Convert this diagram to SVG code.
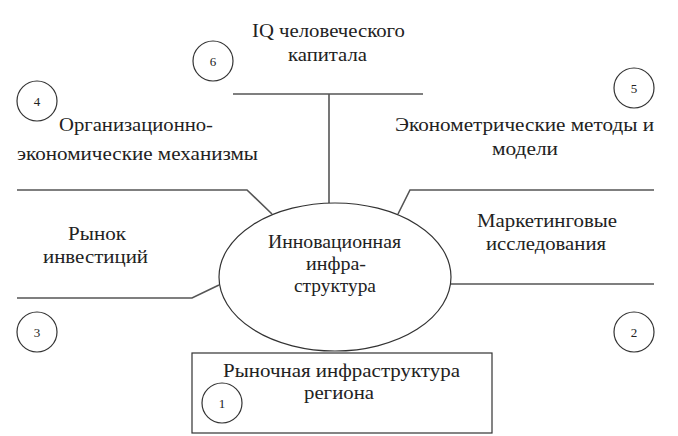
<svg xmlns="http://www.w3.org/2000/svg" width="678" height="436" viewBox="0 0 678 436">
<style>
.ln{fill:none;stroke:#555;stroke-width:1.6}
.sh{fill:#fff;stroke:#333;stroke-width:1.2}
.t{font-family:"Liberation Serif","Times New Roman",serif;font-size:19px;fill:#222;text-anchor:middle}
.n{font-family:"Liberation Serif","Times New Roman",serif;font-size:13px;fill:#222;text-anchor:middle}
</style>
<rect width="678" height="436" fill="#fff"/>
<g id="connectors">
<path class="ln" d="M233 94H423M329 94V203"/>
<path class="ln" d="M17 190H247L272 214"/>
<path class="ln" d="M398 214L410 190H654"/>
<path class="ln" d="M17 298H192L219 285"/>
<path class="ln" d="M451 284H654"/>
</g>
<g id="center">
<ellipse class="sh" cx="335" cy="277" rx="116" ry="74"/>
<text class="t" x="334.5" y="248" textLength="133" lengthAdjust="spacingAndGlyphs">Инновационная</text>
<text class="t" x="336" y="270" textLength="60" lengthAdjust="spacingAndGlyphs">инфра-</text>
<text class="t" x="335" y="292" textLength="82" lengthAdjust="spacingAndGlyphs">структура</text>
</g>
<g id="node1">
<rect class="sh" x="192" y="353" width="300" height="80"/>
<text class="t" x="341.5" y="377" textLength="237" lengthAdjust="spacingAndGlyphs">Рыночная инфраструктура</text>
<text class="t" x="339" y="399" textLength="70" lengthAdjust="spacingAndGlyphs">региона</text>
<circle class="sh" cx="222" cy="403" r="20"/>
<text class="n" x="222" y="408">1</text>
</g>
<g id="node2">
<text class="t" x="547" y="227" textLength="140" lengthAdjust="spacingAndGlyphs">Маркетинговые</text>
<text class="t" x="546" y="250" textLength="120" lengthAdjust="spacingAndGlyphs">исследования</text>
<circle class="sh" cx="634" cy="332" r="20"/>
<text class="n" x="634" y="337">2</text>
</g>
<g id="node3">
<text class="t" x="97" y="240" textLength="58" lengthAdjust="spacingAndGlyphs">Рынок</text>
<text class="t" x="95.5" y="263" textLength="105" lengthAdjust="spacingAndGlyphs">инвестиций</text>
<circle class="sh" cx="37" cy="332" r="20"/>
<text class="n" x="37" y="337">3</text>
</g>
<g id="node4">
<text class="t" x="136" y="131" textLength="154" lengthAdjust="spacingAndGlyphs">Организационно-</text>
<text class="t" x="137.5" y="160" textLength="241" lengthAdjust="spacingAndGlyphs">экономические механизмы</text>
<circle class="sh" cx="37" cy="101" r="20"/>
<text class="n" x="37" y="106">4</text>
</g>
<g id="node5">
<text class="t" x="524.5" y="131" textLength="259" lengthAdjust="spacingAndGlyphs">Эконометрические методы и</text>
<text class="t" x="525" y="155" textLength="66" lengthAdjust="spacingAndGlyphs">модели</text>
<circle class="sh" cx="634" cy="88" r="20"/>
<text class="n" x="634" y="93">5</text>
</g>
<g id="node6">
<text class="t" x="328.5" y="37" textLength="153" lengthAdjust="spacingAndGlyphs">IQ человеческого</text>
<text class="t" x="327.5" y="61" textLength="79" lengthAdjust="spacingAndGlyphs">капитала</text>
<circle class="sh" cx="213" cy="61" r="20"/>
<text class="n" x="213" y="66">6</text>
</g>
</svg>
